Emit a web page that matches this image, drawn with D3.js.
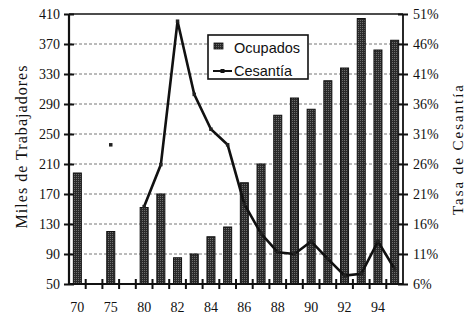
<!DOCTYPE html>
<html>
<head>
<meta charset="utf-8">
<script src="https://cdn.jsdelivr.net/npm/d3@7"></script>
<style>
  html, body { margin: 0; padding: 0; background: #fff; }
  svg { display: block; }
</style>
</head>
<body>
<svg id="chart" width="466" height="318"></svg>
<script>
// ---- Data ----
const years = ["70","72","75","77","80","81","82","83","84","85","86","87","88","89","90","91","92","93","94","95"];
const tickLabels = ["70","75","80","82","84","86","88","90","92","94"];
const ocupados = [198, null, 120, null, 152, 170, 85, 90, 113, 126, 185, 210, 275, 298, 283, 321, 338, 404, 362, 375];
const cesantia = [null, null, 29.2, null, 18.9, 25.9, 49.8, 37.6, 31.8, 29.2, 19.3, 14.4, 11.3, 11.0, 13.1, 10.2, 7.4, 7.7, 13.1, 8.5];
const leftTicks = [50, 90, 130, 170, 210, 250, 290, 330, 370, 410];
const rightTicks = [6, 11, 16, 21, 26, 31, 36, 41, 46, 51];
const seriesNames = ["Ocupados", "Cesantía"];
const leftTitle = "Miles de Trabajadores";
const rightTitle = "Tasa de Cesantía";

// ---- Layout ----
const X0 = 69, X1 = 403, Y0 = 284, Y1 = 14;
const svg = d3.select("#chart");
const serif = "'Liberation Serif', 'Times New Roman', serif";
const sans = "'Liberation Sans', Arial, sans-serif";

const x = d3.scaleBand().domain(years).range([X0, X1]).padding(0);
const yL = d3.scaleLinear().domain([50, 410]).range([Y0, Y1]);
const yR = d3.scaleLinear().domain([6, 51]).range([Y0, Y1]);

// pattern for bars
const defs = svg.append("defs");
const pat = defs.append("pattern").attr("id", "dots").attr("patternUnits", "userSpaceOnUse")
  .attr("width", 2).attr("height", 2);
pat.append("rect").attr("width", 2).attr("height", 2).attr("fill", "#2a2a2a");
pat.append("rect").attr("x", 0).attr("y", 0).attr("width", 1).attr("height", 1).attr("fill", "#6e6e6e");

// gridlines
svg.append("g").selectAll("line").data(leftTicks.filter(t => t !== 50 && t !== 410)).join("line")
  .attr("x1", X0).attr("x2", X1)
  .attr("y1", d => yL(d)).attr("y2", d => yL(d))
  .attr("stroke", "#777").attr("stroke-width", 1).attr("stroke-dasharray", "3,2");

// bars
const bw = 8;
const barData = years.map((y, i) => ({ y, v: ocupados[i] })).filter(d => d.v != null);
svg.append("g").selectAll("rect").data(barData).join("rect")
  .attr("x", d => x(d.y) + x.bandwidth() / 2 - bw / 2)
  .attr("width", bw)
  .attr("y", d => yL(d.v))
  .attr("height", d => yL(50) - yL(d.v))
  .attr("fill", "url(#dots)")
  .attr("stroke", "#111").attr("stroke-width", 1);

// line
const lineData = years.map((y, i) => ({ y, v: cesantia[i] }));
const line = d3.line().defined(d => d.v != null)
  .x(d => x(d.y) + x.bandwidth() / 2).y(d => yR(d.v));
svg.append("path").datum(lineData).attr("d", line)
  .attr("fill", "none").attr("stroke", "#111").attr("stroke-width", 2.6)
  .attr("stroke-linejoin", "miter");
svg.append("g").selectAll("rect").data(lineData.filter(d => d.v != null)).join("rect")
  .attr("x", d => x(d.y) + x.bandwidth() / 2 - 1.75)
  .attr("y", d => yR(d.v) - 1.75)
  .attr("width", 3.5).attr("height", 3.5).attr("fill", "#222");

// frame
svg.append("line").attr("x1", X0).attr("x2", X1).attr("y1", Y1).attr("y2", Y1)
  .attr("stroke", "#111").attr("stroke-width", 1.6);

// left axis
const axL = svg.append("g").attr("transform", `translate(${X0},0)`)
  .call(d3.axisLeft(yL).tickValues(leftTicks).tickSize(5).tickPadding(4).tickFormat(d3.format("d")));
axL.select(".domain").attr("stroke", "#111").attr("stroke-width", 2.2).attr("d", `M0,${Y0}V${Y1}`);
axL.selectAll(".tick line").attr("x1", -5).attr("x2", 5).attr("stroke", "#111").attr("stroke-width", 2);
axL.selectAll(".tick text").attr("font-family", serif).attr("font-size", 14).attr("fill", "#111");

// right axis
const axR = svg.append("g").attr("transform", `translate(${X1},0)`)
  .call(d3.axisRight(yR).tickValues(rightTicks).tickSize(5).tickPadding(5).tickFormat(d => d + "%"));
axR.select(".domain").attr("stroke", "#111").attr("stroke-width", 1.8).attr("d", `M0,${Y0}V${Y1}`);
axR.selectAll(".tick line").attr("x1", -5).attr("x2", 5).attr("stroke", "#111").attr("stroke-width", 2);
axR.selectAll(".tick text").attr("font-family", serif).attr("font-size", 14).attr("fill", "#111");

// bottom axis
const axB = svg.append("g").attr("transform", `translate(0,${Y0})`)
  .call(d3.axisBottom(x).tickValues(tickLabels).tickSize(0).tickPadding(18));
axB.select(".domain").attr("stroke", "#111").attr("stroke-width", 2.2).attr("d", `M${X0},0H${X1}`);
axB.selectAll(".tick text").attr("font-family", serif).attr("font-size", 14).attr("fill", "#111");
axB.append("g").selectAll("line").data(years.slice(1)).join("line")
  .attr("x1", d => x(d)).attr("x2", d => x(d)).attr("y1", -5).attr("y2", 5)
  .attr("stroke", "#111").attr("stroke-width", 2);

// axis titles
svg.append("text").attr("transform", "translate(27,147) rotate(-90)")
  .attr("text-anchor", "middle").attr("font-family", serif).attr("font-size", 16)
  .attr("textLength", 163).attr("lengthAdjust", "spacing").attr("fill", "#111").text(leftTitle);
svg.append("text").attr("transform", "translate(463,150) rotate(-90)")
  .attr("text-anchor", "middle").attr("font-family", serif).attr("font-size", 15)
  .attr("textLength", 130).attr("lengthAdjust", "spacing").attr("fill", "#111").text(rightTitle);

// legend
const lg = svg.append("g");
lg.append("rect").attr("x", 208).attr("y", 35).attr("width", 100).attr("height", 44)
  .attr("fill", "#fff").attr("stroke", "#111").attr("stroke-width", 1.6);
lg.append("rect").attr("x", 214).attr("y", 43).attr("width", 9).attr("height", 6)
  .attr("fill", "url(#dots)").attr("stroke", "#111").attr("stroke-width", 0.8);
lg.append("line").attr("x1", 213).attr("x2", 232).attr("y1", 71).attr("y2", 71)
  .attr("stroke", "#111").attr("stroke-width", 2);
lg.append("rect").attr("x", 220.5).attr("y", 69).attr("width", 4).attr("height", 4).attr("fill", "#111");
lg.append("text").attr("x", 234).attr("y", 52.5).attr("font-family", sans).attr("font-size", 14.5)
  .attr("fill", "#111").text(seriesNames[0]);
lg.append("text").attr("x", 234).attr("y", 76).attr("font-family", sans).attr("font-size", 14.5)
  .attr("fill", "#111").text(seriesNames[1]);
</script>
</body>
</html>
